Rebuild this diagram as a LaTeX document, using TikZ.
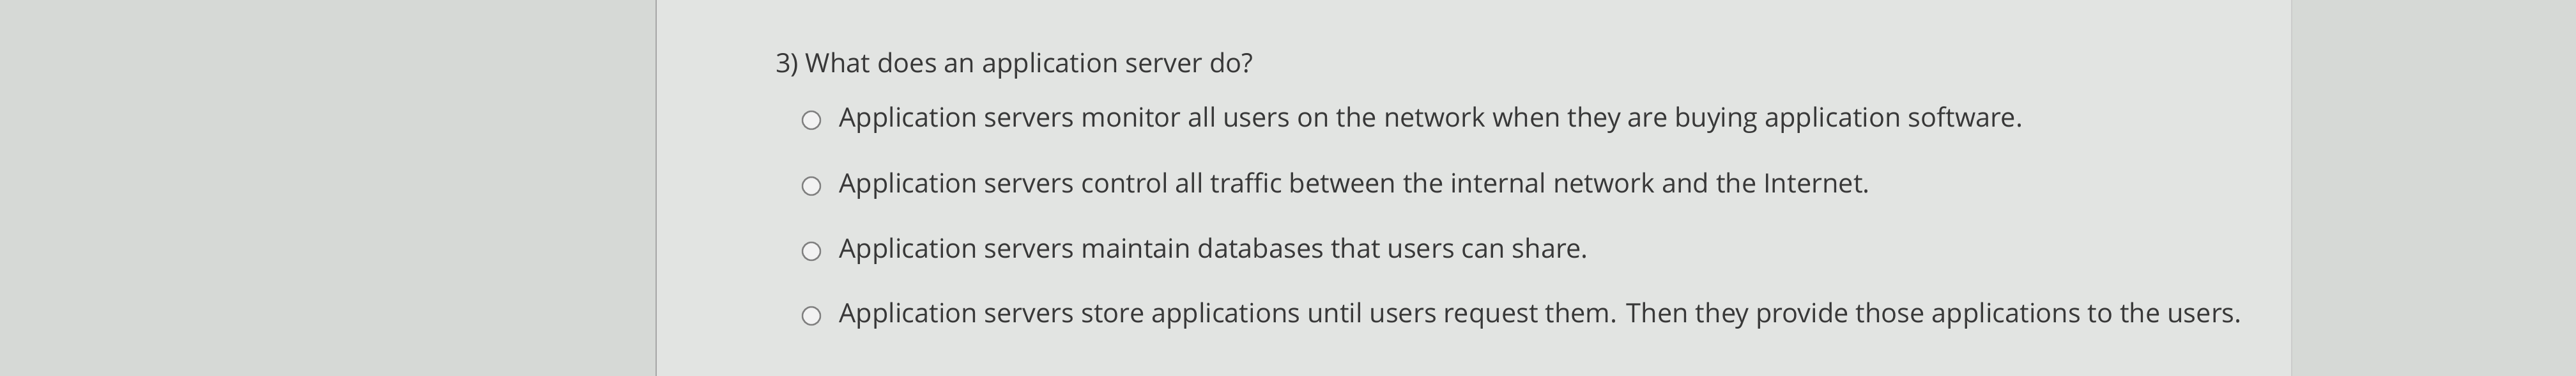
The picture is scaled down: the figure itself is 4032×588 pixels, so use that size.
\documentclass[tikz,border=0pt]{standalone}
\usepackage{fontspec}
\setmainfont{Open Sans}
\usetikzlibrary{positioning}
\begin{document}
\begin{tikzpicture}[x=1pt,y=1pt,
  txt/.style={anchor=west,inner sep=0pt,text=black!78,font=\fontsize{41.5}{46}\selectfont},
  radio/.style={circle,draw=black!50,line width=2.5pt,minimum size=28pt,inner sep=0pt,fill=white!90!gray}]
\definecolor{bg}{HTML}{D6D9D6}
\definecolor{panel}{HTML}{E2E4E2}
\fill[bg] (0,0) rectangle (4032,588);
\useasboundingbox (0,0) rectangle (4032,588);
\fill[panel] (1027,0) rectangle (3587,588);
\draw[black!35,line width=2pt] (1027,0) -- (1027,588);
\draw[black!20,line width=2pt] (3587,0) -- (3587,588);
\node[txt] (q) at (1214,485) {3) What does an application server do?};
\node[radio] (r1) at (1270,400) {};
\node[txt,right=28pt of r1.east,anchor=west] (a1) {Application servers monitor all users on the network when they are buying application software.};
\node[radio] (r2) at (1270,297) {};
\node[txt,right=28pt of r2.east,anchor=west] (a2) {Application servers control all traffic between the internal network and the Internet.};
\node[radio] (r3) at (1270,195) {};
\node[txt,right=28pt of r3.east,anchor=west] (a3) {Application servers maintain databases that users can share.};
\node[radio] (r4) at (1270,94) {};
\node[txt,right=28pt of r4.east,anchor=west] (a4) {Application servers store applications until users request them. Then they provide those applications to the users.};
\end{tikzpicture}
\end{document}
